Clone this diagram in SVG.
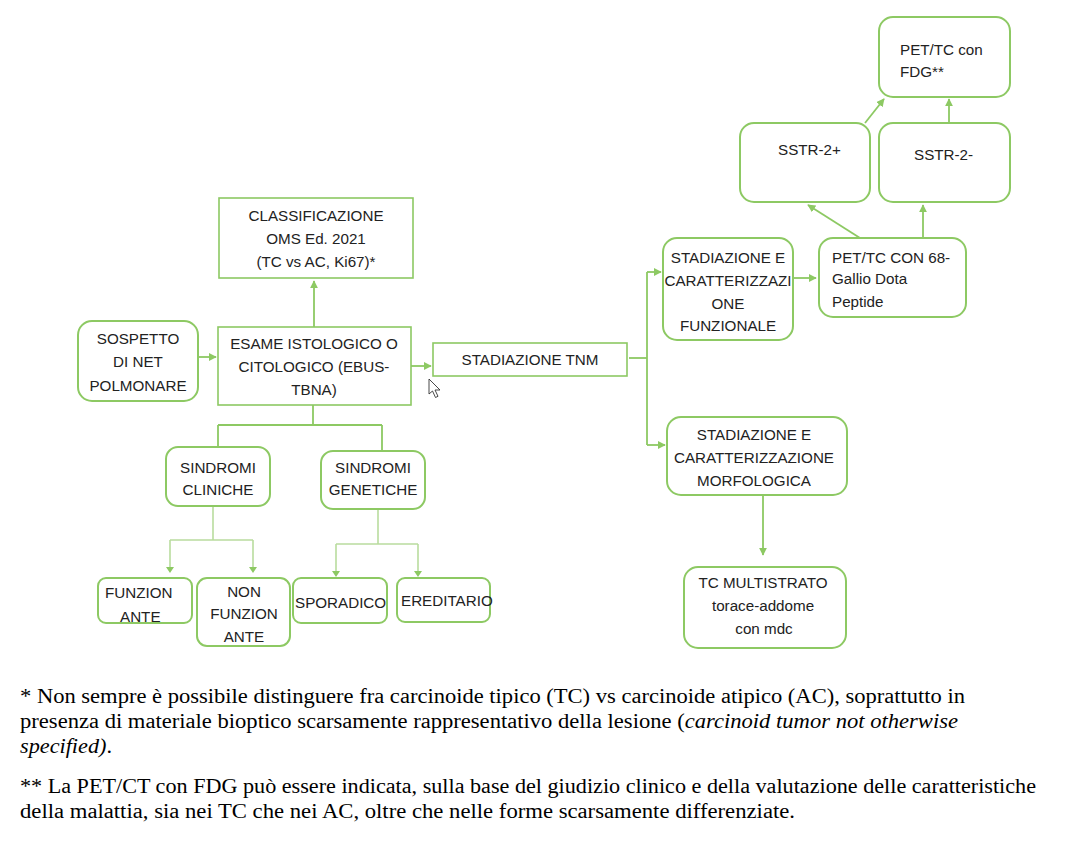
<svg xmlns="http://www.w3.org/2000/svg" width="1078" height="847" viewBox="0 0 1078 847">
<defs>
<style>
.bx{fill:#fff;stroke:#8DC963;stroke-width:2}
.rb{fill:#fff;stroke:#8DC963;stroke-width:1.6}
.t{font-family:"Liberation Sans",Arial,sans-serif;font-size:15.2px;fill:#222}
.c{text-anchor:middle}
.ln{fill:none;stroke:#8DC963;stroke-width:1.8}
.lt{fill:none;stroke:#B9DC9E;stroke-width:1.6}
.fn{font-family:"Liberation Serif","Times New Roman",serif;font-size:20.5px;fill:#000}
</style>
<marker id="ah" viewBox="0 0 10 10" refX="9" refY="5" markerWidth="4.5" markerHeight="4.5" orient="auto"><path d="M0,0L10,5L0,10z" fill="#8DC963"/></marker>
</defs>
<rect width="1078" height="847" fill="#fff"/>

<g id="connectors">
<path class="ln" d="M198,357H216" marker-end="url(#ah)"/>
<path class="ln" d="M314,327V281" marker-end="url(#ah)"/>
<path class="ln" d="M411,366H431" marker-end="url(#ah)"/>
<path class="ln" d="M629,358H647"/>
<path class="ln" d="M647,272V445"/>
<path class="ln" d="M647,272H661" marker-end="url(#ah)"/>
<path class="ln" d="M647,445H665" marker-end="url(#ah)"/>
<path class="ln" d="M793,278H816" marker-end="url(#ah)"/>
<path class="ln" d="M860,238L808,205" marker-end="url(#ah)"/>
<path class="ln" d="M923,238V205" marker-end="url(#ah)"/>
<path class="ln" d="M865,123L884,99" marker-end="url(#ah)"/>
<path class="ln" d="M949,123V99" marker-end="url(#ah)"/>
<path class="ln" d="M763,495V555" marker-end="url(#ah)"/>
<path class="ln" d="M313,405V425M218,425H382M218,425V447M382,425V451"/>
<path class="lt" d="M213,506V540M170,540H253M170,540V571M253,540V571"/>
<path class="lt" d="M378,509V544M336,544H418M336,544V575M418,544V575"/>
<path d="M166,567l4,6l4,-6zM249,567l4,6l4,-6zM332,571l4,6l4,-6zM414,571l4,6l4,-6z" fill="#8DC963"/>
</g>

<g id="n-sospetto">
<rect class="bx" x="78" y="321" width="120" height="80" rx="14"/>
<text class="t c" x="138" y="344">SOSPETTO</text>
<text class="t c" x="138" y="367">DI NET</text>
<text class="t c" x="138" y="391">POLMONARE</text>
</g>
<g id="n-esame">
<rect class="rb" x="218" y="327" width="193" height="78"/>
<text class="t c" x="314" y="349">ESAME ISTOLOGICO  O</text>
<text class="t c" x="314" y="372">CITOLOGICO  (EBUS-</text>
<text class="t c" x="314" y="395">TBNA)</text>
</g>
<g id="n-classificazione">
<rect class="rb" x="219" y="198" width="194" height="80"/>
<text class="t c" x="316" y="221">CLASSIFICAZIONE</text>
<text class="t c" x="316" y="244">OMS Ed. 2021</text>
<text class="t c" x="316" y="267">(TC vs AC, Ki67)*</text>
</g>
<g id="n-tnm">
<rect class="rb" x="433" y="343" width="194" height="33"/>
<text class="t c" x="530" y="365">STADIAZIONE TNM</text>
</g>
<g id="n-funzionale">
<rect class="bx" x="663" y="238" width="130" height="102" rx="14"/>
<text class="t c" x="728" y="263">STADIAZIONE E</text>
<text class="t c" x="728" y="286">CARATTERIZZAZI</text>
<text class="t c" x="728" y="309">ONE</text>
<text class="t c" x="728" y="331">FUNZIONALE</text>
</g>
<g id="n-pet68">
<rect class="bx" x="819" y="238" width="147" height="79" rx="14"/>
<text class="t" x="832" y="263">PET/TC CON 68-</text>
<text class="t" x="832" y="284">Gallio Dota</text>
<text class="t" x="832" y="307">Peptide</text>
</g>
<g id="n-sstr2p">
<rect class="bx" x="740" y="123" width="130" height="79" rx="14"/>
<text class="t" x="778" y="155">SSTR-2+</text>
</g>
<g id="n-sstr2m">
<rect class="bx" x="879" y="123" width="131" height="79" rx="14"/>
<text class="t" x="914" y="160">SSTR-2-</text>
</g>
<g id="n-fdg">
<rect class="bx" x="879" y="17" width="131" height="80" rx="14"/>
<text class="t" x="900" y="55">PET/TC con</text>
<text class="t" x="900" y="77">FDG**</text>
</g>
<g id="n-morfologica">
<rect class="bx" x="667" y="417" width="180" height="78" rx="14"/>
<text class="t c" x="754" y="440">STADIAZIONE E</text>
<text class="t c" x="754" y="463">CARATTERIZZAZIONE</text>
<text class="t c" x="754" y="486">MORFOLOGICA</text>
</g>
<g id="n-tcmulti">
<rect class="bx" x="684" y="567" width="162" height="81" rx="14"/>
<text class="t c" x="763" y="588">TC MULTISTRATO</text>
<text class="t c" x="763" y="611">torace-addome</text>
<text class="t c" x="764" y="634">con mdc</text>
</g>
<g id="n-cliniche">
<rect class="bx" x="166" y="447" width="104" height="59" rx="12"/>
<text class="t c" x="218" y="473">SINDROMI</text>
<text class="t c" x="218" y="495">CLINICHE</text>
</g>
<g id="n-genetiche">
<rect class="bx" x="321" y="451" width="104" height="58" rx="12"/>
<text class="t c" x="373" y="473">SINDROMI</text>
<text class="t c" x="373" y="495">GENETICHE</text>
</g>
<g id="n-funzionante">
<rect class="bx" x="98" y="578" width="94" height="45" rx="8"/>
<text class="t" x="105" y="598">FUNZION</text>
<text class="t" x="120" y="622">ANTE</text>
</g>
<g id="n-nonfunzionante">
<rect class="bx" x="197" y="578" width="93" height="68" rx="10"/>
<text class="t c" x="244" y="597">NON</text>
<text class="t c" x="244" y="619">FUNZION</text>
<text class="t c" x="244" y="642">ANTE</text>
</g>
<g id="n-sporadico">
<rect class="bx" x="293" y="578" width="94" height="45" rx="8"/>
<text class="t" x="295" y="608">SPORADICO</text>
</g>
<g id="n-ereditario">
<rect class="bx" x="397" y="578" width="93" height="44" rx="8"/>
<text class="t" x="401" y="606">EREDITARIO</text>
</g>

<path d="M429,379V394L432.5,391L435.5,397.5L438,396.3L435,390H440Z" fill="#fff" stroke="#333" stroke-width="0.9" stroke-linejoin="round"/>

<g id="footnotes">
<text class="fn" x="20" y="703" textLength="945" lengthAdjust="spacingAndGlyphs">* Non sempre è possibile distinguere fra carcinoide tipico (TC) vs carcinoide atipico (AC), soprattutto in</text>
<text class="fn" x="20" y="728" textLength="938" lengthAdjust="spacingAndGlyphs">presenza di materiale bioptico scarsamente rappresentativo della lesione (<tspan font-style="italic">carcinoid tumor not otherwise</tspan></text>
<text class="fn" x="20" y="753" textLength="92" lengthAdjust="spacingAndGlyphs"><tspan font-style="italic">specified)</tspan>.</text>
<text class="fn" x="20" y="793" textLength="1016" lengthAdjust="spacingAndGlyphs">** La PET/CT con FDG può essere indicata, sulla base del giudizio clinico e della valutazione delle caratteristiche</text>
<text class="fn" x="20" y="818" textLength="775" lengthAdjust="spacingAndGlyphs">della malattia, sia nei TC che nei AC, oltre che nelle forme scarsamente differenziate.</text>
</g>
</svg>
